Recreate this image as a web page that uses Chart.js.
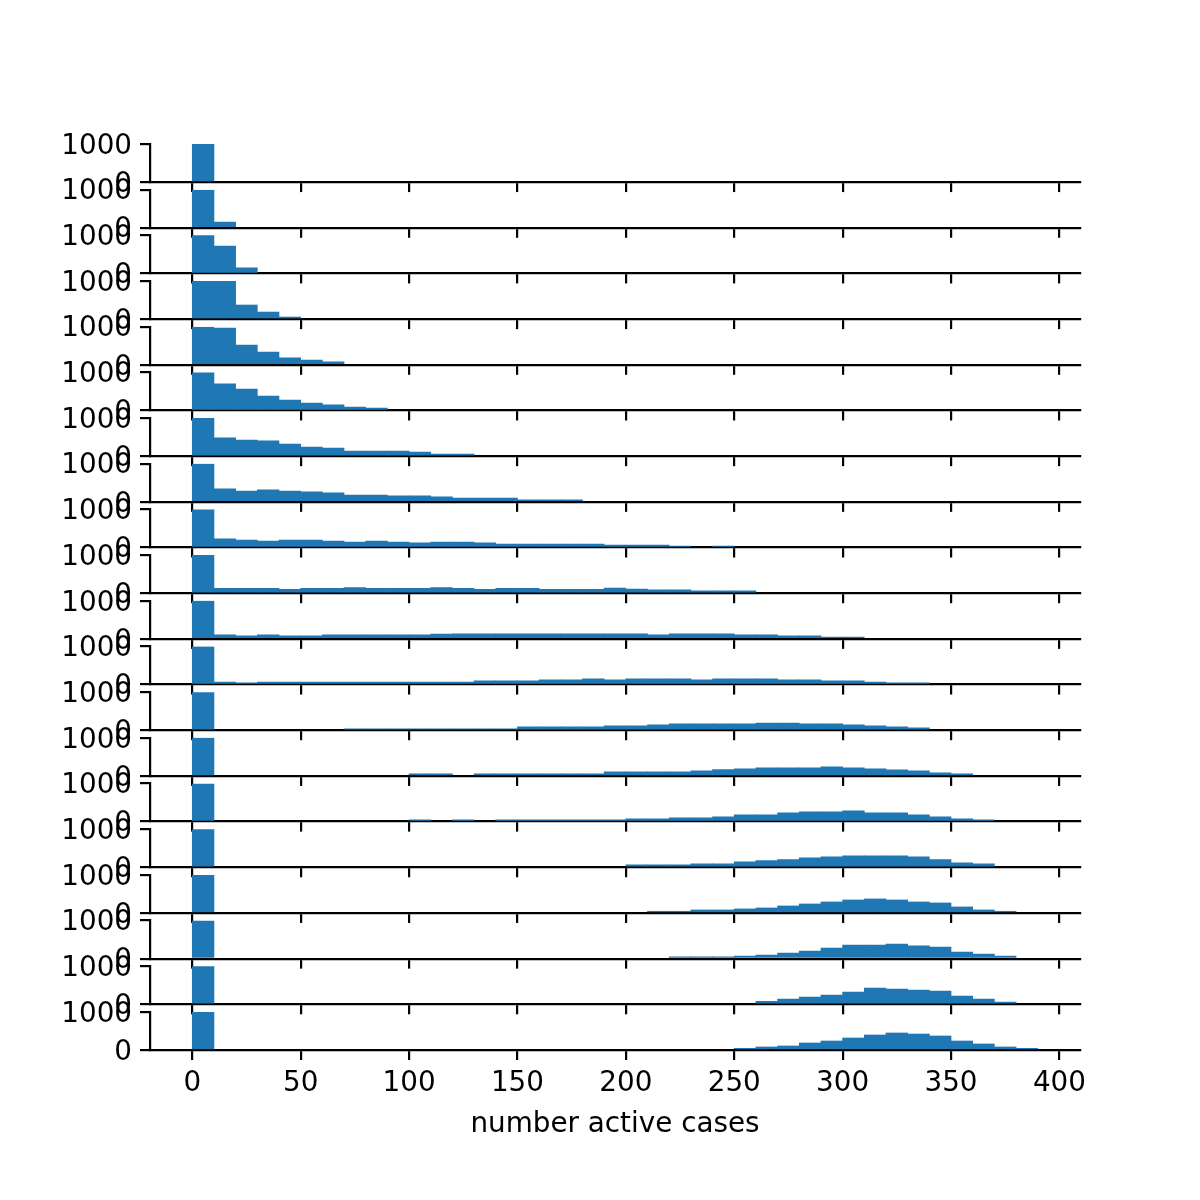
<!DOCTYPE html>
<html>
<head>
<meta charset="utf-8">
<script src="https://cdn.jsdelivr.net/npm/chart.js@4.4.1/dist/chart.umd.min.js"></script>
<style>
body { margin: 0; background: #fff; }
#fig { position: relative; width: 1200px; height: 1200px; overflow: hidden; background: #fff; }
#fig canvas { position: absolute; left: 0; }
</style>
</head>
<body>
<div id="fig"></div>
<script>
// histogram bins (left edges, width 10)
var binStarts = [0, 10, 20, 30, 40, 50, 60, 70, 80, 90, 100, 110, 120, 130, 140, 150, 160, 170, 180, 190,
                 200, 210, 220, 230, 240, 250, 260, 270, 280, 290, 300, 310, 320, 330, 340, 350, 360, 370, 380];
var xTicks = [0, 50, 100, 150, 200, 250, 300, 350, 400];
var yTicks = [0, 1000];
var xLabel = 'number active cases';

// counts per bin, one row per subplot (missing bins at the end are 0)
var counts1 = [1000];
var counts2 = [990, 150];
var counts3 = [1000, 720, 145];
var counts4 = [1000, 1000, 370, 185, 55];
var counts5 = [990, 965, 520, 335, 180, 125, 75];
var counts6 = [1000, 700, 565, 380, 275, 195, 145, 90, 65];
var counts7 = [1000, 480, 425, 400, 320, 240, 215, 135, 135, 135, 110, 55, 55];
var counts8 = [995, 340, 285, 315, 285, 260, 235, 180, 180, 155, 155, 130, 100, 100, 100, 50, 50, 50];
var counts9 = [1000, 225, 195, 170, 195, 195, 170, 145, 170, 145, 120, 145, 145, 120, 90, 90, 90, 90, 90, 65,
               65, 65, 40, 0, 40];
var counts10 = [1000, 125, 125, 125, 100, 125, 125, 150, 125, 125, 125, 150, 125, 100, 125, 125, 100, 100, 100, 135,
                110, 85, 85, 60, 60, 60];
var counts11 = [1000, 105, 80, 105, 80, 80, 105, 105, 105, 105, 105, 125, 130, 130, 130, 130, 130, 130, 130, 130,
                130, 105, 130, 130, 130, 105, 105, 80, 80, 50, 50];
var counts12 = [1000, 68, 42, 68, 68, 68, 68, 68, 68, 68, 68, 68, 68, 95, 95, 95, 121, 121, 147, 121,
                147, 147, 147, 121, 147, 147, 147, 121, 121, 95, 95, 68, 42, 42];
var counts13 = [1000, 0, 0, 0, 0, 0, 0, 40, 40, 40, 40, 40, 40, 40, 40, 87, 87, 87, 87, 113,
                113, 140, 165, 165, 165, 165, 190, 190, 165, 165, 140, 113, 87, 60];
var counts14 = [1000, 0, 0, 0, 0, 0, 0, 0, 0, 0, 52, 52, 0, 52, 52, 52, 52, 52, 52, 105,
                105, 105, 105, 131, 166, 184, 210, 210, 210, 236, 210, 184, 158, 131, 79, 52];
var counts15 = [990, 0, 0, 0, 0, 0, 0, 0, 0, 0, 44, 0, 44, 0, 44, 44, 44, 44, 44, 44,
                70, 70, 96, 96, 122, 175, 175, 228, 254, 254, 280, 228, 228, 175, 122, 70, 44];
var counts16 = [1000, 0, 0, 0, 0, 0, 0, 0, 0, 0, 0, 0, 0, 0, 0, 0, 0, 0, 0, 0,
                61, 61, 61, 88, 88, 140, 175, 201, 245, 271, 298, 298, 298, 271, 201, 114, 88];
var counts17 = [1000, 0, 0, 0, 0, 0, 0, 0, 0, 0, 0, 0, 0, 0, 0, 0, 0, 0, 0, 0,
                0, 44, 44, 79, 79, 105, 131, 184, 236, 289, 341, 368, 341, 289, 263, 158, 79, 44];
var counts18 = [990, 0, 0, 0, 0, 0, 0, 0, 0, 0, 0, 0, 0, 0, 0, 0, 0, 0, 0, 0,
                0, 0, 44, 44, 44, 70, 96, 149, 201, 280, 359, 359, 385, 333, 306, 175, 122, 70];
var counts19 = [1000, 0, 0, 0, 0, 0, 0, 0, 0, 0, 0, 0, 0, 0, 0, 0, 0, 0, 0, 0,
                0, 0, 0, 0, 0, 0, 79, 140, 192, 245, 324, 429, 403, 377, 350, 219, 140, 61];
var counts20 = [1000, 0, 0, 0, 0, 0, 0, 0, 0, 0, 0, 0, 0, 0, 0, 0, 0, 0, 0, 0,
                0, 0, 0, 0, 0, 44, 79, 105, 184, 236, 315, 394, 447, 420, 368, 236, 158, 79, 44];

var allCounts = [counts1, counts2, counts3, counts4, counts5, counts6, counts7, counts8, counts9, counts10,
                 counts11, counts12, counts13, counts14, counts15, counts16, counts17, counts18, counts19, counts20];

var fig = document.getElementById('fig');
var axTop = 144, axH = 38.07, axStep = 45.68;
var font = { family: "'DejaVu Sans', sans-serif", size: 27.8 };
var label = function (v) { return String(v); };

allCounts.forEach(function (counts, i) {
  var last = i === allCounts.length - 1;
  var top = axTop + i * axStep;
  var canvasTop = Math.floor(top) - 30;
  var padTop = top - canvasTop;
  var canvasH = last ? 1200 - canvasTop : 100;
  var xH = canvasH - padTop - axH;

  var canvas = document.createElement('canvas');
  canvas.width = 1200;
  canvas.height = canvasH;
  canvas.style.top = canvasTop + 'px';
  fig.appendChild(canvas);

  new Chart(canvas.getContext('2d'), {
    type: 'bar',
    data: {
      datasets: [{
        // empty bins are left out (null) so no sliver is drawn on the baseline
        data: binStarts.map(function (b, j) { return { x: b + 5, y: counts[j] || null }; }),
        backgroundColor: '#1f77b4',
        borderWidth: 0,
        barPercentage: 1,
        categoryPercentage: 1
      }]
    },
    options: {
      responsive: false,
      animation: false,
      devicePixelRatio: 1,
      layout: { padding: { left: 0, right: 120, top: padTop, bottom: 0 } },
      plugins: { legend: { display: false }, tooltip: { enabled: false } },
      scales: {
        x: {
          type: 'linear',
          min: -19.5,
          max: 409.5,
          offset: false,
          afterBuildTicks: function (s) { s.ticks = xTicks.map(function (v) { return { value: v }; }); },
          afterFit: function (s) { s.height = xH; },
          grid: { offset: false, drawOnChartArea: false, drawTicks: true, tickLength: 10, color: '#000', lineWidth: 2.2 },
          border: { color: '#000', width: 2.2 },
          ticks: { color: last ? '#000' : 'rgba(0,0,0,0)', padding: 7, font: font, maxRotation: 0, autoSkip: false, callback: label },
          title: { display: last, text: xLabel, color: '#000', font: font, padding: { top: 0, bottom: 59 } }
        },
        y: {
          min: 0,
          max: 1000,
          afterBuildTicks: function (s) { s.ticks = yTicks.map(function (v) { return { value: v }; }); },
          afterFit: function (s) { s.width = 150; },
          grid: { drawOnChartArea: false, drawTicks: true, tickLength: 10, color: '#000', lineWidth: 2.2 },
          border: { color: '#000', width: 2.2 },
          ticks: { color: '#000', padding: 8, labelOffset: 2.5, font: font, autoSkip: false, callback: label }
        }
      }
    }
  });
});
</script>
</body>
</html>
